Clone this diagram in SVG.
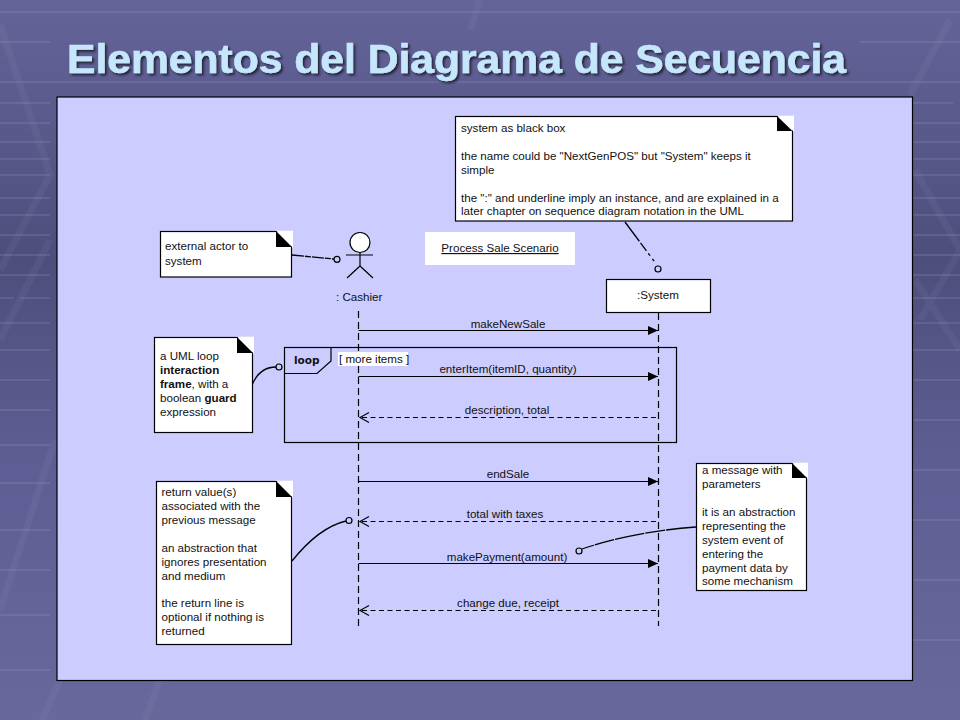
<svg xmlns="http://www.w3.org/2000/svg" width="960" height="720" viewBox="0 0 960 720">
<style>
text{font-family:"Liberation Sans",Arial,sans-serif;font-size:11.6px;fill:#111}
.c{text-anchor:middle}
.n{fill:#fff;stroke:#000;stroke-width:1.2}
.f{fill:#000;stroke:none}
.w{fill:#fff;stroke:none}
.l{stroke:#000;stroke-width:1.2;fill:none}
.ll{stroke:#000;stroke-width:1.2;fill:none;stroke-dasharray:7 4}
.s{stroke:#000;stroke-width:1.2;fill:none}
.d{stroke:#000;stroke-width:1.1;fill:none;stroke-dasharray:5 3.500}
.a{stroke:#000;stroke-width:1.300;fill:none}
.o{stroke:#000;stroke-width:1.200;fill:#ccf}
.bg1{stroke:#a0a0c8;stroke-opacity:.2;stroke-width:2;fill:none}
.bg2{stroke:#a0a0c8;stroke-opacity:.1;stroke-width:7;fill:none}
</style>
<defs>
<linearGradient id="bg" x1="0" y1="0" x2="0" y2="1">
<stop offset="0" stop-color="#64649a"/><stop offset=".36" stop-color="#4e4e7c"/><stop offset=".65" stop-color="#5e5e94"/><stop offset="1" stop-color="#68689c"/>
</linearGradient>
<filter id="sh" x="-5%" y="-20%" width="110%" height="140%"><feDropShadow dx="2" dy="2" stdDeviation=".8" flood-color="#1c1c30" flood-opacity=".9"/></filter>
<marker id="solid" markerUnits="userSpaceOnUse" markerWidth="11" markerHeight="10" refX="10" refY="4.500" orient="auto"><path d="M0 0L10 4.500L0 9z" fill="#000"/></marker>
<marker id="open" markerUnits="userSpaceOnUse" markerWidth="12" markerHeight="12" refX="10" refY="5.500" orient="auto"><path d="M1 .5L10 5.500L1 10.500" fill="none" stroke="#000" stroke-width="1.100"/></marker>
</defs>
<rect width="960" height="720" fill="url(#bg)"/>
<g id="backdrop">
<path class="bg1" d="M0 103H50M0 123H50M0 142H50M0 159H50M0 175H50M0 198H50M0 215H50M0 235H50M0 255H50M0 275H50M0 298H14M20 298H50M0 323H50M0 350H50M0 380H50M0 410H50M0 445H50M0 483H50M0 530H50M0 570H50M0 615H50M0 670H50"/>
<path class="bg1" d="M913 103H953M913 123H960M913 142H960M913 159H960M913 175H960M913 198H960M913 215H960M913 235H960M913 255H960M913 275H960M913 298H960M913 323H960M913 350H960M913 380H960M913 420H960M913 470H960M913 520H960M913 580H960M913 640H960"/>
<path class="bg1" d="M0 12H960M0 42H50M860 42H960M0 82H960" stroke-opacity=".1"/>
<path class="bg2" d="M0 25L50 175L0 270M50 240L0 340M55 440L0 610M915 170L960 250L920 320M950 20L910 95M915 280L960 350"/>
<path class="bg2" d="M60 680L42 720M160 680L145 720M480 0L470 30"/>
</g>
<rect id="panel" x="57" y="97" width="855.500" height="583.500" fill="#ccf" stroke="#000" stroke-width="1.2"/>
<text id="title" x="67" y="73" textLength="779" lengthAdjust="spacingAndGlyphs" filter="url(#sh)" style="font-size:40px;font-weight:bold;fill:#c6e7fb;stroke:#c6e7fb;stroke-width:.6">Elementos del Diagrama de Secuencia</text>

<g id="connectors">
<path class="ll" d="M358.500 311V626"/>
<path class="ll" d="M658.500 313V626"/>
<path class="s" marker-end="url(#solid)" d="M358.500 330.500H658"/>
<path class="s" marker-end="url(#solid)" d="M358.500 376.500H658"/>
<path class="d" marker-end="url(#open)" d="M656 417.500H360"/>
<path class="s" marker-end="url(#solid)" d="M358.500 481.500H658"/>
<path class="d" marker-end="url(#open)" d="M656 521.500H360"/>
<path class="s" marker-end="url(#solid)" d="M358.500 563.500H658"/>
<path class="d" marker-end="url(#open)" d="M656 610.500H360"/>
<path class="a" stroke-dasharray="12 1 6 1" d="M292 255L334 259"/>
<path class="a" stroke-dasharray="24 2 10 3 3 4" d="M625 222L654 261"/>
<path class="a" d="M252 385C257 373 265 367 276 367"/>
<path class="a" d="M292 561C308 541 325 526 346 521"/>
<path class="a" stroke-dasharray="30 1 20 1" d="M696 527C655 530 618 537 582 549"/>
<circle class="o" cx="337" cy="259.300" r="3"/>
<circle class="o" cx="658" cy="269" r="3"/>
<circle class="o" cx="279" cy="367" r="3"/>
<circle class="o" cx="349" cy="520.500" r="3"/>
<circle class="o" cx="579" cy="551" r="3"/>
</g>

<g id="loop-frame">
<rect class="l" x="284.500" y="347.500" width="392" height="95"/>
<path class="l" d="M284.500 373.500H317L331 361V347.500"/>
<text x="294" y="364" style="font-weight:bold;font-family:'DejaVu Sans',sans-serif;font-size:10.500px">loop</text>
<rect class="w" x="338" y="352" width="70" height="14"/>
<text x="339" y="363">[ more items ]</text>
</g>

<g id="labels">
<text class="c" x="508" y="328">makeNewSale</text>
<text class="c" x="508" y="373">enterItem(itemID, quantity)</text>
<text class="c" x="507" y="414">description, total</text>
<text class="c" x="508" y="478">endSale</text>
<text class="c" x="505" y="518">total with taxes</text>
<text class="c" x="507" y="561">makePayment(amount)</text>
<text class="c" x="508" y="607">change due, receipt</text>
</g>

<g id="cashier" class="l">
<circle cx="360" cy="242.500" r="10" fill="#fff"/>
<path d="M360 252.500V266M346 255H373M360 266L347 278M360 266L373 278"/>
<text x="336" y="301" style="stroke:none">: Cashier</text>
</g>
<g id="system">
<rect class="n" x="606.500" y="279.500" width="104" height="33"/>
<text class="c" x="658" y="299">:System</text>
</g>
<g id="scenario">
<rect class="w" x="425" y="232" width="150" height="33"/>
<text class="c" x="500" y="252" text-decoration="underline">Process Sale Scenario</text>
</g>

<g id="note-system">
<rect class="n" x="455.500" y="116.500" width="337" height="104.500"/>
<path class="w" d="M777 115.500H794V132z"/><path class="f" d="M777 116L792.500 131H777z"/>
<text x="461" y="132">system as black box</text>
<text x="461" y="160">the name could be "NextGenPOS" but "System" keeps it</text>
<text x="461" y="174">simple</text>
<text x="461" y="202">the ":" and underline imply an instance, and are explained in a</text>
<text x="461" y="215">later chapter on sequence diagram notation in the UML</text>
</g>
<g id="note-actor">
<rect class="n" x="160.500" y="231.500" width="131" height="45.500"/>
<path class="w" d="M276 230.500H293V248z"/><path class="f" d="M276 231L292 247H276z"/>
<text x="165" y="250">external actor to</text>
<text x="165" y="265">system</text>
</g>
<g id="note-loop">
<rect class="n" x="154.500" y="337.500" width="98" height="95"/>
<path class="w" d="M237 336.500H254V354z"/><path class="f" d="M237 337L253 353H237z"/>
<text x="160" y="360">a UML loop</text>
<text x="160" y="374" font-weight="bold">interaction</text>
<text x="160" y="388"><tspan font-weight="bold">frame</tspan>, with a</text>
<text x="160" y="402">boolean <tspan font-weight="bold">guard</tspan></text>
<text x="160" y="416">expression</text>
</g>
<g id="note-return">
<rect class="n" x="156.500" y="481.500" width="135" height="163"/>
<path class="w" d="M276 480.500H293V498z"/><path class="f" d="M276 481L292 497H276z"/>
<text x="161.500" y="496">return value(s)</text>
<text x="161.500" y="510">associated with the</text>
<text x="161.500" y="524">previous message</text>
<text x="161.500" y="552">an abstraction that</text>
<text x="161.500" y="566">ignores presentation</text>
<text x="161.500" y="580">and medium</text>
<text x="161.500" y="607">the return line is</text>
<text x="161.500" y="621">optional if nothing is</text>
<text x="161.500" y="635">returned</text>
</g>
<g id="note-message">
<rect class="n" x="696.500" y="463.500" width="110" height="127"/>
<path class="w" d="M792 462.500H808V479z"/><path class="f" d="M792 463L807 478H792z"/>
<text x="702" y="474">a message with</text>
<text x="702" y="488">parameters</text>
<text x="702" y="516">it is an abstraction</text>
<text x="702" y="530">representing the</text>
<text x="702" y="544">system event of</text>
<text x="702" y="558">entering the</text>
<text x="702" y="572">payment data by</text>
<text x="702" y="585">some mechanism</text>
</g>
</svg>
